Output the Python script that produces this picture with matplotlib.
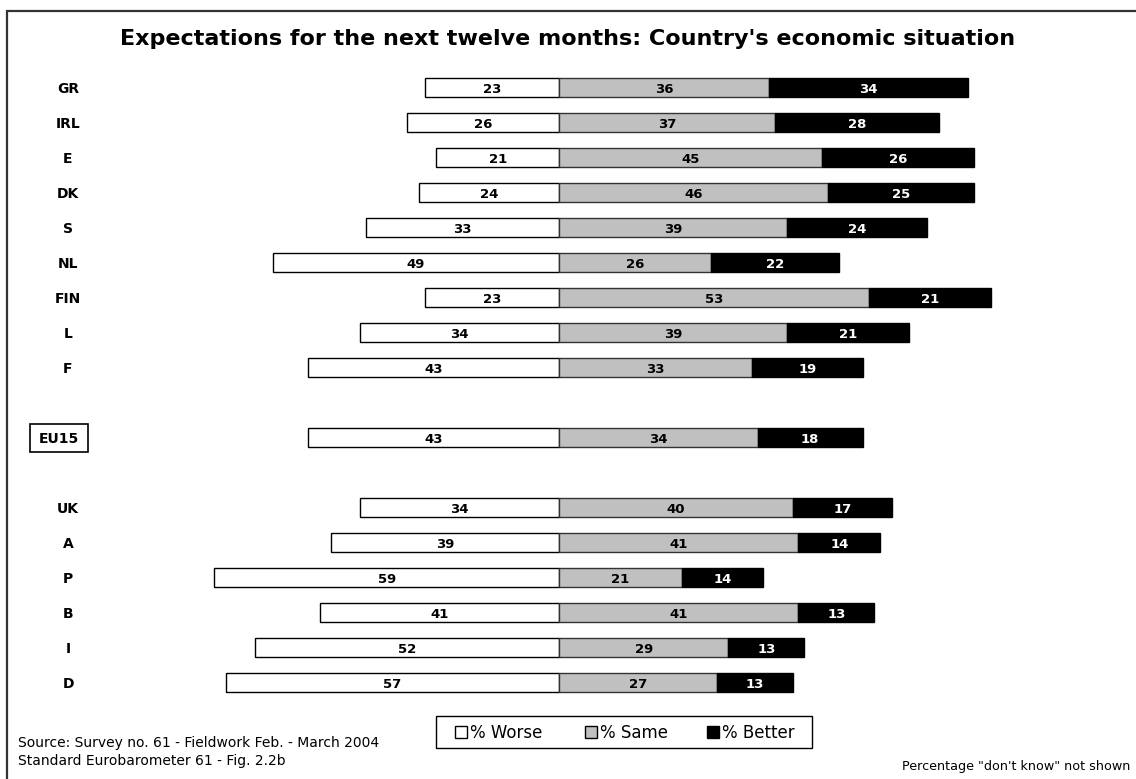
import matplotlib.pyplot as plt
from matplotlib.patches import Rectangle

plt.rcParams['font.family'] = ['DejaVu Sans']

countries = ["GR", "IRL", "E", "DK", "S", "NL", "FIN", "L", "F",
             "EU15", "UK", "A", "P", "B", "I", "D"]
worse = [23, 26, 21, 24, 33, 49, 23, 34, 43, 43, 34, 39, 59, 41, 52, 57]
same = [36, 37, 45, 46, 39, 26, 53, 39, 33, 34, 40, 41, 21, 41, 29, 27]
better = [34, 28, 26, 25, 24, 22, 21, 21, 19, 18, 17, 14, 14, 13, 13, 13]
legend_labels = ["% Worse", "% Same", "% Better"]
colors = ["white", "#c0c0c0", "black"]

W, H = 1136, 779
fig = plt.figure(figsize=(W / 100, H / 100), dpi=100)
# one axes over the whole figure, 0 % line at x=559 px, 5.84 px per point
px_per_pt = 5.84
x0 = 559
ax = fig.add_axes([0, 0, 1, 1])
ax.set_xlim(-x0 / px_per_pt, (W - x0) / px_per_pt)
row_h = 35
y_first = 87.5
ax.set_ylim((H - y_first) / row_h, -y_first / row_h)
ax.axis('off')


def fx(px):
    return px / W


def fy(py):
    return 1 - py / H


# blank row before and after the EU15 average
rows = []
for i in range(len(countries)):
    rows.append(i + (1 if i >= 9 else 0) + (1 if i >= 10 else 0))

bh = 0.54
ax.barh(rows, [-w for w in worse], height=bh, color=colors[0], edgecolor='black', linewidth=1)
ax.barh(rows, same, height=bh, color=colors[1], edgecolor='#333333', linewidth=1)
ax.barh(rows, better, left=same, height=bh, color=colors[2], edgecolor='black', linewidth=1)

dy = 0.165  # baseline offset so digits sit centred in the bar
lbl_x = (68 - x0) / px_per_pt
for y, c, w, s, b in zip(rows, countries, worse, same, better):
    ax.text(-w / 2, y + dy, str(w), ha='center', va='baseline', fontsize=9.5, fontweight='bold')
    ax.text(s / 2, y + dy, str(s), ha='center', va='baseline', fontsize=9.5, fontweight='bold')
    ax.text(s + b / 2, y + dy, str(b), ha='center', va='baseline', fontsize=9.5,
            fontweight='bold', color='white')
    if c == "EU15":
        ax.text((59 - x0) / px_per_pt, y + dy, c, ha='center', va='baseline',
                fontsize=10, fontweight='bold')
        ax.add_patch(Rectangle(((30 - x0) / px_per_pt, y - 14 / row_h),
                               58 / px_per_pt, 28 / row_h,
                               fill=False, ec='black', lw=1.2))
    else:
        ax.text(lbl_x, y + dy, c, ha='center', va='baseline', fontsize=10, fontweight='bold')

# outer frame
fig.patches.append(Rectangle((fx(7), -0.05), 1.1, fy(11) + 0.05,
                             transform=fig.transFigure, fill=False,
                             ec='#333333', lw=1.6))

fig.text(fx(568), fy(45), "Expectations for the next twelve months: Country's economic situation",
         ha='center', va='baseline', fontsize=16, fontweight='bold')

# legend box with the three swatches
fig.patches.append(Rectangle((fx(436), fy(748)), fx(376), 32 / H,
                             transform=fig.transFigure, fill=False, ec='black', lw=1))
for sq_x, lab, col in zip([455, 585, 707], legend_labels, colors):
    fig.patches.append(Rectangle((fx(sq_x), fy(738)), fx(12), 12 / H,
                                 transform=fig.transFigure, fc=col, ec='black', lw=1))
    fig.text(fx(sq_x + 15), fy(738), lab, ha='left', va='baseline', fontsize=12)

fig.text(fx(18), fy(747), "Source: Survey no. 61 - Fieldwork Feb. - March 2004",
         ha='left', va='baseline', fontsize=10)
fig.text(fx(18), fy(765), "Standard Eurobarometer 61 - Fig. 2.2b",
         ha='left', va='baseline', fontsize=10)
fig.text(fx(1130), fy(770), 'Percentage "don\'t know" not shown',
         ha='right', va='baseline', fontsize=9.2)

fig.savefig("out.png", dpi=100)
